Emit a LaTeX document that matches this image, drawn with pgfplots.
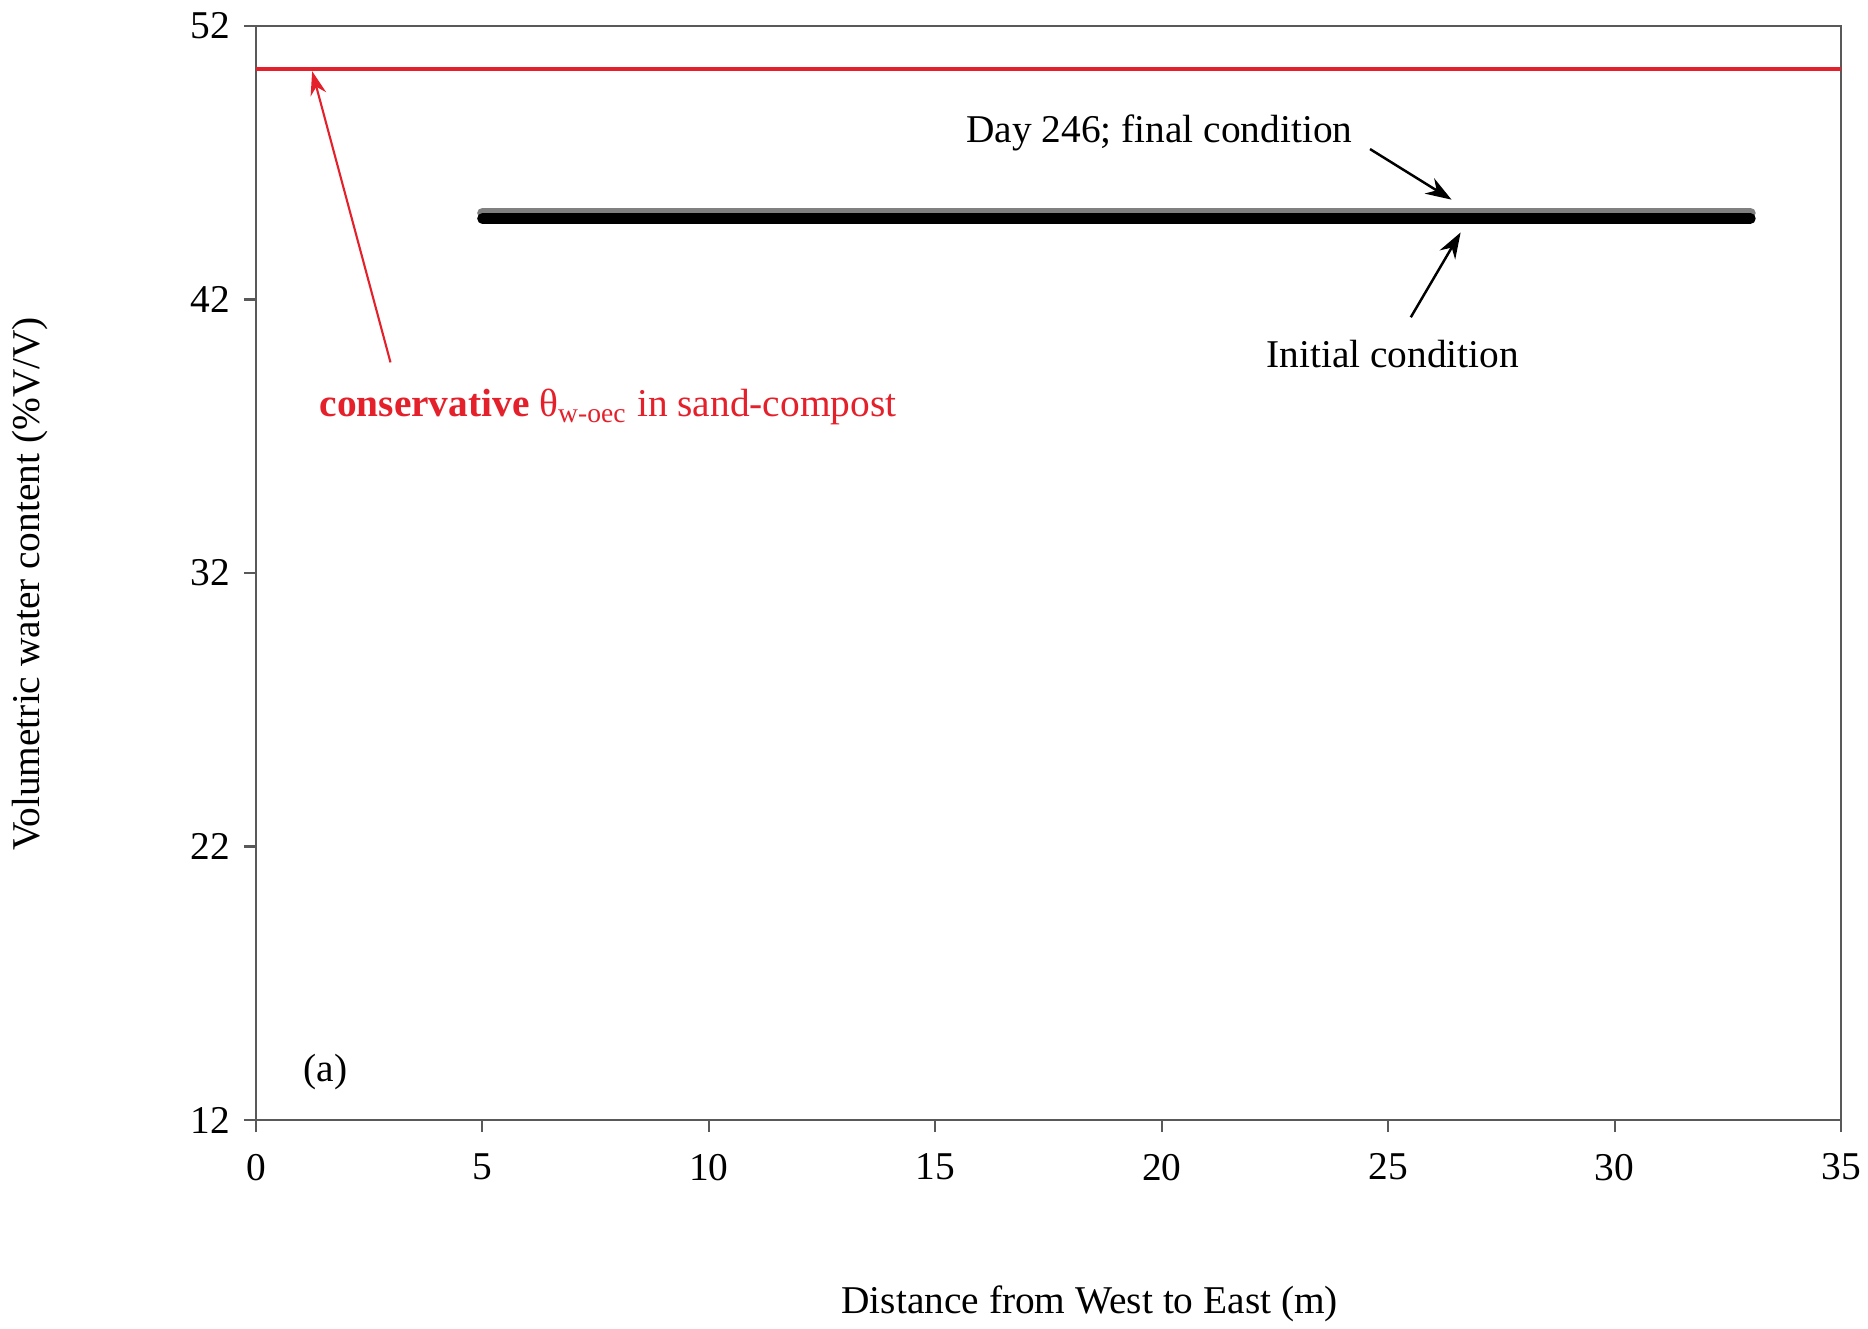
\documentclass[border=0pt]{standalone}
\usepackage{fontspec}
\setmainfont{Liberation Serif}
\usepackage{pgfplots}
\pgfplotsset{compat=1.18}
\usetikzlibrary{arrows.meta}
\definecolor{myred}{RGB}{228,32,42}
\begin{document}
\fontsize{11.2}{13.5}\selectfont
\begin{tikzpicture}
\begin{axis}[
  scale only axis, width=158.5mm, height=109.4mm,
  xmin=0, xmax=35, ymin=12, ymax=52,
  xtick={0,5,...,35}, ytick={12,22,32,42,52},
  tick align=outside, tick pos=left, major tick length=1.2mm,
  axis line style={black!65, line width=0.6pt},
  tick style={black!65, line width=0.6pt},
  /pgf/number format/assume math mode=true,
  ticklabel style={font=\fontsize{11.2}{13.5}\selectfont},
  xticklabel style={yshift=-0.8mm},
  xlabel={Distance from West to East (m)},
  ylabel={Volumetric water content (\%V/V)},
  label style={font=\fontsize{11.2}{13.5}\selectfont},
  xlabel style={at={(axis description cs:0.526,-0.168)}, anchor=center},
  ylabel style={at={(axis description cs:-0.1426,0.49)}, anchor=center},
  clip=false,
]
% conservative theta line
\addplot[myred, line width=1.1pt] coordinates {(0,50.42) (35,50.42)};
% Day 246; final condition
\addplot[black!50, line width=3pt, line cap=round] coordinates {
(5,45.16) (7,45.16) (9,45.16) (11,45.16) (13,45.16) (15,45.16) (17,45.16) (19,45.16)
(21,45.16) (23,45.16) (25,45.16) (27,45.16) (29,45.16) (31,45.16) (33,45.16)};
% Initial condition
\addplot[black, line width=3pt, line cap=round] coordinates {
(5,44.96) (7,44.96) (9,44.96) (11,44.96) (13,44.96) (15,44.96) (17,44.96) (19,44.96)
(21,44.96) (23,44.96) (25,44.96) (27,44.96) (29,44.96) (31,44.96) (33,44.96)};

\node[anchor=center] at (axis cs:19.95,48.1) {Day 246; final condition};
\draw[black, line width=0.7pt, -{Stealth[length=2.6mm,width=1.8mm]}] (axis cs:24.6,47.5) -- (axis cs:26.4,45.65);
\node[anchor=center] at (axis cs:25.1,40.0) {Initial condition};
\draw[black, line width=0.7pt, -{Stealth[length=2.6mm,width=1.8mm]}] (axis cs:25.5,41.35) -- (axis cs:26.6,44.45);

\node[anchor=west, text=myred, inner sep=0pt] at (axis cs:1.39,38.08) {\textbf{conservative} θ\textsubscript{w-oec} in sand-compost};
\draw[myred, line width=0.6pt, -{Stealth[length=2.4mm,width=1.6mm]}] (axis cs:2.97,39.7) -- (axis cs:1.24,50.35);

\node[anchor=center] at (axis cs:1.53,13.75) {(a)};
\end{axis}
\pgfresetboundingbox
\path ([shift={(-25.6mm,-20.8mm)}]current axis.south west) rectangle ++(186.8mm,132.8mm);
\end{tikzpicture}
\end{document}
